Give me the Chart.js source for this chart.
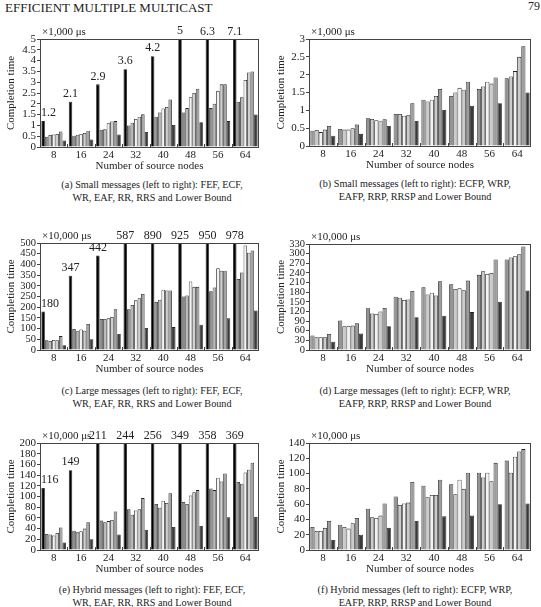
<!DOCTYPE html>
<html>
<head>
<meta charset="utf-8">
<script src="https://cdn.jsdelivr.net/npm/chart.js@4"></script>
<style>
  body { margin: 0; background: #fff; width: 541px; height: 607px; position: relative; overflow: hidden;
         font-family: "Liberation Serif", serif; color: #222; }
  canvas { position: absolute; }
  .txt { position: absolute; white-space: nowrap; line-height: 13px; }
  .cap { font-size: 10.2px; transform: translateX(-50%); }
</style>
</head>
<body>
<div class="txt" style="left:5px; top:1px; font-size:13px;">EFFICIENT MULTIPLE MULTICAST</div>
<div class="txt" style="right:1px; top:0px; font-size:12px;">79</div>

<script>
const groups = ['8', '16', '24', '32', '40', '48', '56', '64'];
const namesA = ['FEF', 'ECF', 'WR', 'EAF', 'RR', 'RRS', 'Lower Bound'];
const namesB = ['ECFP', 'WRP', 'EAFP', 'RRP', 'RRSP', 'Lower Bound'];

// (a) small messages
const smallFEF = [1.2, 2.1, 2.9, 3.6, 4.2, 5, 6.3, 7.1];
const smallECF = [0.48, 0.52, 0.8, 1.0, 1.4, 1.6, 1.8, 2.1];
const smallWR  = [0.56, 0.57, 0.82, 1.12, 1.6, 1.8, 2.0, 2.3];
const smallEAF = [0.58, 0.6, 1.1, 1.3, 1.78, 2.3, 2.6, 3.1];
const smallRR  = [0.6, 0.65, 1.18, 1.4, 1.85, 2.5, 2.9, 3.45];
const smallRRS = [0.72, 0.75, 1.2, 1.52, 2.2, 2.7, 2.9, 3.5];
const smallLB  = [0.3, 0.35, 0.58, 0.7, 1.02, 1.15, 1.2, 1.5];
// (b) small messages, P variants
const smallECFP = [0.43, 0.48, 0.78, 0.9, 1.3, 1.4, 1.6, 1.9];
const smallWRP  = [0.45, 0.46, 0.76, 0.9, 1.25, 1.5, 1.67, 1.95];
const smallEAFP = [0.39, 0.46, 0.72, 0.85, 1.3, 1.63, 1.8, 2.1];
const smallRRP  = [0.46, 0.5, 0.71, 0.86, 1.4, 1.58, 1.75, 2.5];
const smallRRSP = [0.56, 0.6, 0.75, 1.2, 1.6, 1.8, 1.92, 2.8];
const smallLBP  = [0.29, 0.34, 0.56, 0.7, 1.01, 1.13, 1.2, 1.5];
// (c) large messages
const largeFEF = [180, 347, 442, 587, 890, 925, 950, 978];
const largeECF = [45, 98, 145, 190, 225, 250, 275, 332];
const largeWR  = [42, 88, 145, 210, 235, 255, 292, 362];
const largeEAF = [47, 96, 148, 232, 282, 320, 382, 488];
const largeRR  = [46, 90, 155, 242, 278, 295, 370, 455];
const largeRRS = [65, 122, 190, 262, 278, 295, 370, 465];
const largeLB  = [22, 50, 75, 103, 107, 118, 148, 185];
// (d) large messages, P variants
const largeECFP = [45, 92, 130, 166, 195, 205, 234, 282];
const largeWRP  = [40, 74, 114, 163, 173, 190, 245, 288];
const largeEAFP = [40, 75, 112, 156, 178, 192, 237, 292];
const largeRRP  = [40, 76, 120, 157, 170, 186, 240, 298];
const largeRRSP = [50, 83, 131, 184, 214, 216, 282, 322];
const largeLBP  = [26, 51, 74, 102, 107, 118, 150, 185];
// (e) hybrid messages
const hybridFEF = [116, 149, 211, 244, 256, 349, 358, 369];
const hybridECF = [30, 36, 55, 76, 86, 90, 115, 127];
const hybridWR  = [29, 33, 52, 66, 79, 86, 112, 124];
const hybridEAF = [27, 35, 54, 74, 92, 102, 135, 145];
const hybridRR  = [32, 40, 56, 76, 88, 108, 128, 150];
const hybridRRS = [42, 52, 72, 97, 106, 112, 143, 163];
const hybridLB  = [14, 20, 29, 38, 43, 45, 61, 62];
// (f) hybrid messages, P variants
const hybridECFP = [30, 33, 54, 70, 84, 86, 101, 117];
const hybridWRP  = [25, 30, 43, 59, 69, 73, 95, 101];
const hybridEAFP = [25, 28, 42, 61, 72, 92, 101, 122];
const hybridRRP  = [29, 35, 45, 62, 72, 80, 90, 129];
const hybridRRSP = [38, 42, 61, 89, 92, 101, 114, 132];
const hybridLBP  = [13, 20, 29, 38, 44, 45, 60, 61];

const colorsA = ['#000000', '#8a8a8a', '#b8b8b8', '#f2f2f2', '#cfcfcf', '#a2a2a2', '#3a3a3a'];
const colorsB = ['#959595', '#cbcbcb', '#f2f2f2', '#cbcbcb', '#9c9c9c', '#3a3a3a'];

Chart.defaults.font.family = '"Liberation Serif", serif';
Chart.defaults.font.size = 11;
Chart.defaults.color = '#222';

const panels = [
  { col: 0,   plot: [40, 259, 39, 147],  max: 5,   step: 0.5, unit: '×1,000 μs',  names: namesA, colors: colorsA, top: true,
    series: [smallFEF, smallECF, smallWR, smallEAF, smallRR, smallRRS, smallLB],
    cap: ['(a) Small messages (left to right): FEF, ECF,', 'WR, EAF, RR, RRS and Lower Bound'], capY: 184 },
  { col: 270, plot: [309, 531, 39, 146], max: 3,   step: 0.5, unit: '×1,000 μs',  names: namesB, colors: colorsB, top: false,
    series: [smallECFP, smallWRP, smallEAFP, smallRRP, smallRRSP, smallLBP],
    cap: ['(b) Small messages (left to right): ECFP, WRP,', 'EAFP, RRP, RRSP and Lower Bound'], capY: 183 },
  { col: 0,   plot: [40, 259, 243, 350], max: 500, step: 50,  unit: '×10,000 μs', names: namesA, colors: colorsA, top: true,
    series: [largeFEF, largeECF, largeWR, largeEAF, largeRR, largeRRS, largeLB],
    cap: ['(c) Large messages (left to right): FEF, ECF,', 'WR, EAF, RR, RRS and Lower Bound'], capY: 390 },
  { col: 270, plot: [309, 531, 244, 350], max: 330, step: 30, unit: '×10,000 μs', names: namesB, colors: colorsB, top: false,
    series: [largeECFP, largeWRP, largeEAFP, largeRRP, largeRRSP, largeLBP],
    cap: ['(d) Large messages (left to right): ECFP, WRP,', 'EAFP, RRP, RRSP and Lower Bound'], capY: 390 },
  { col: 0,   plot: [40, 259, 443, 550], max: 200, step: 20,  unit: '×10,000 μs', names: namesA, colors: colorsA, top: true,
    series: [hybridFEF, hybridECF, hybridWR, hybridEAF, hybridRR, hybridRRS, hybridLB],
    cap: ['(e) Hybrid messages (left to right): FEF, ECF,', 'WR, EAF, RR, RRS and Lower Bound'], capY: 589 },
  { col: 270, plot: [309, 531, 443, 550], max: 140, step: 20, unit: '×10,000 μs', names: namesB, colors: colorsB, top: false,
    series: [hybridECFP, hybridWRP, hybridEAFP, hybridRRP, hybridRRSP, hybridLBP],
    cap: ['(f) Hybrid messages (left to right): ECFP, WRP,', 'EAFP, RRP, RRSP and Lower Bound'], capY: 589 }
];

// frame, unit text, group marks and the values over the clipped first series
const framePlugin = {
  id: 'frame',
  afterDatasetsDraw(chart, args, opts) {
    const { ctx, chartArea: a } = chart;
    ctx.save();
    ctx.strokeStyle = '#444';
    ctx.lineWidth = 1;
    ctx.strokeRect(a.left + 0.5, a.top + 0.5, a.right - a.left - 1, a.bottom - a.top);
    const n = chart.data.labels.length;
    const gw = (a.right - a.left) / n;
    ctx.beginPath();
    for (let i = 1; i < n; i++) {
      const x = Math.round(a.left + i * gw) + 0.5;
      ctx.moveTo(x, a.bottom);
      ctx.lineTo(x, a.bottom - 3);
    }
    ctx.stroke();

    ctx.fillStyle = '#222';
    ctx.textBaseline = 'middle';
    ctx.font = '11px "Liberation Serif", serif';
    ctx.textAlign = 'left';
    ctx.fillText(opts.unit, a.left + 2, a.top - 7);

    if (opts.top) {
      ctx.font = '12px "Liberation Serif", serif';
      ctx.textAlign = 'center';
      const meta = chart.getDatasetMeta(0);
      meta.data.forEach((bar, i) => {
        const txt = String(chart.data.datasets[0].data[i]);
        const w = ctx.measureText(txt).width;
        const x = Math.max(bar.x, a.left + w / 2 + 1);
        const y = bar.y < a.top ? a.top - 7 : bar.y - 8;
        ctx.fillText(txt, x, y);
      });
    }
    ctx.restore();
  }
};

panels.forEach(p => {
  const [pl, pr, pt, pb] = p.plot;
  const width = p.col === 0 ? 270 : 271;
  const top = pt - 30;
  const height = pb + 28 - top;
  const cv = document.createElement('canvas');
  cv.width = width;
  cv.height = height;
  cv.style.left = p.col + 'px';
  cv.style.top = top + 'px';
  document.body.appendChild(cv);

  p.cap.forEach((line, k) => {
    const d = document.createElement('div');
    d.className = 'txt cap';
    d.textContent = line;
    d.style.left = (p.col === 0 ? 152 : 415) + 'px';
    d.style.top = (p.capY - 6 + k * 13) + 'px';
    document.body.appendChild(d);
  });

  new Chart(cv.getContext('2d'), {
    type: 'bar',
    data: {
      labels: groups,
      datasets: p.series.map((vals, i) => ({
        label: p.names[i],
        data: vals,
        backgroundColor: p.colors[i],
        borderColor: '#222',
        borderWidth: 0.8,
        categoryPercentage: 0.9,
        barPercentage: 1.0
      }))
    },
    options: {
      responsive: false,
      animation: false,
      devicePixelRatio: 1,
      layout: { padding: { top: 30, left: 0, bottom: 0, right: width - (pr - p.col) } },
      plugins: {
        legend: { display: false },
        tooltip: { enabled: false },
        frame: { unit: p.unit, top: p.top }
      },
      scales: {
        x: {
          grid: { display: false, drawTicks: false },
          border: { display: false },
          ticks: { padding: 2, font: { size: 11 } },
          title: { display: true, text: 'Number of source nodes', padding: { top: 0, bottom: 2 }, font: { size: 11 } },
          afterFit: s => { s.height = 28; }
        },
        y: {
          min: 0,
          max: p.max,
          grid: { drawOnChartArea: false, tickLength: 3, color: '#444' },
          border: { display: false },
          ticks: {
            stepSize: p.step, padding: 1, autoSkip: false,
            font: { size: p.max > 300 ? 10.5 : 11 },
            callback: v => String(Math.round(v * 100) / 100)
          },
          title: { display: true, text: 'Completion time', padding: { top: 5, bottom: 0 }, font: { size: 11 } },
          afterFit: s => { s.width = pl - p.col; }
        }
      }
    },
    plugins: [framePlugin]
  });
});
</script>
</body>
</html>
